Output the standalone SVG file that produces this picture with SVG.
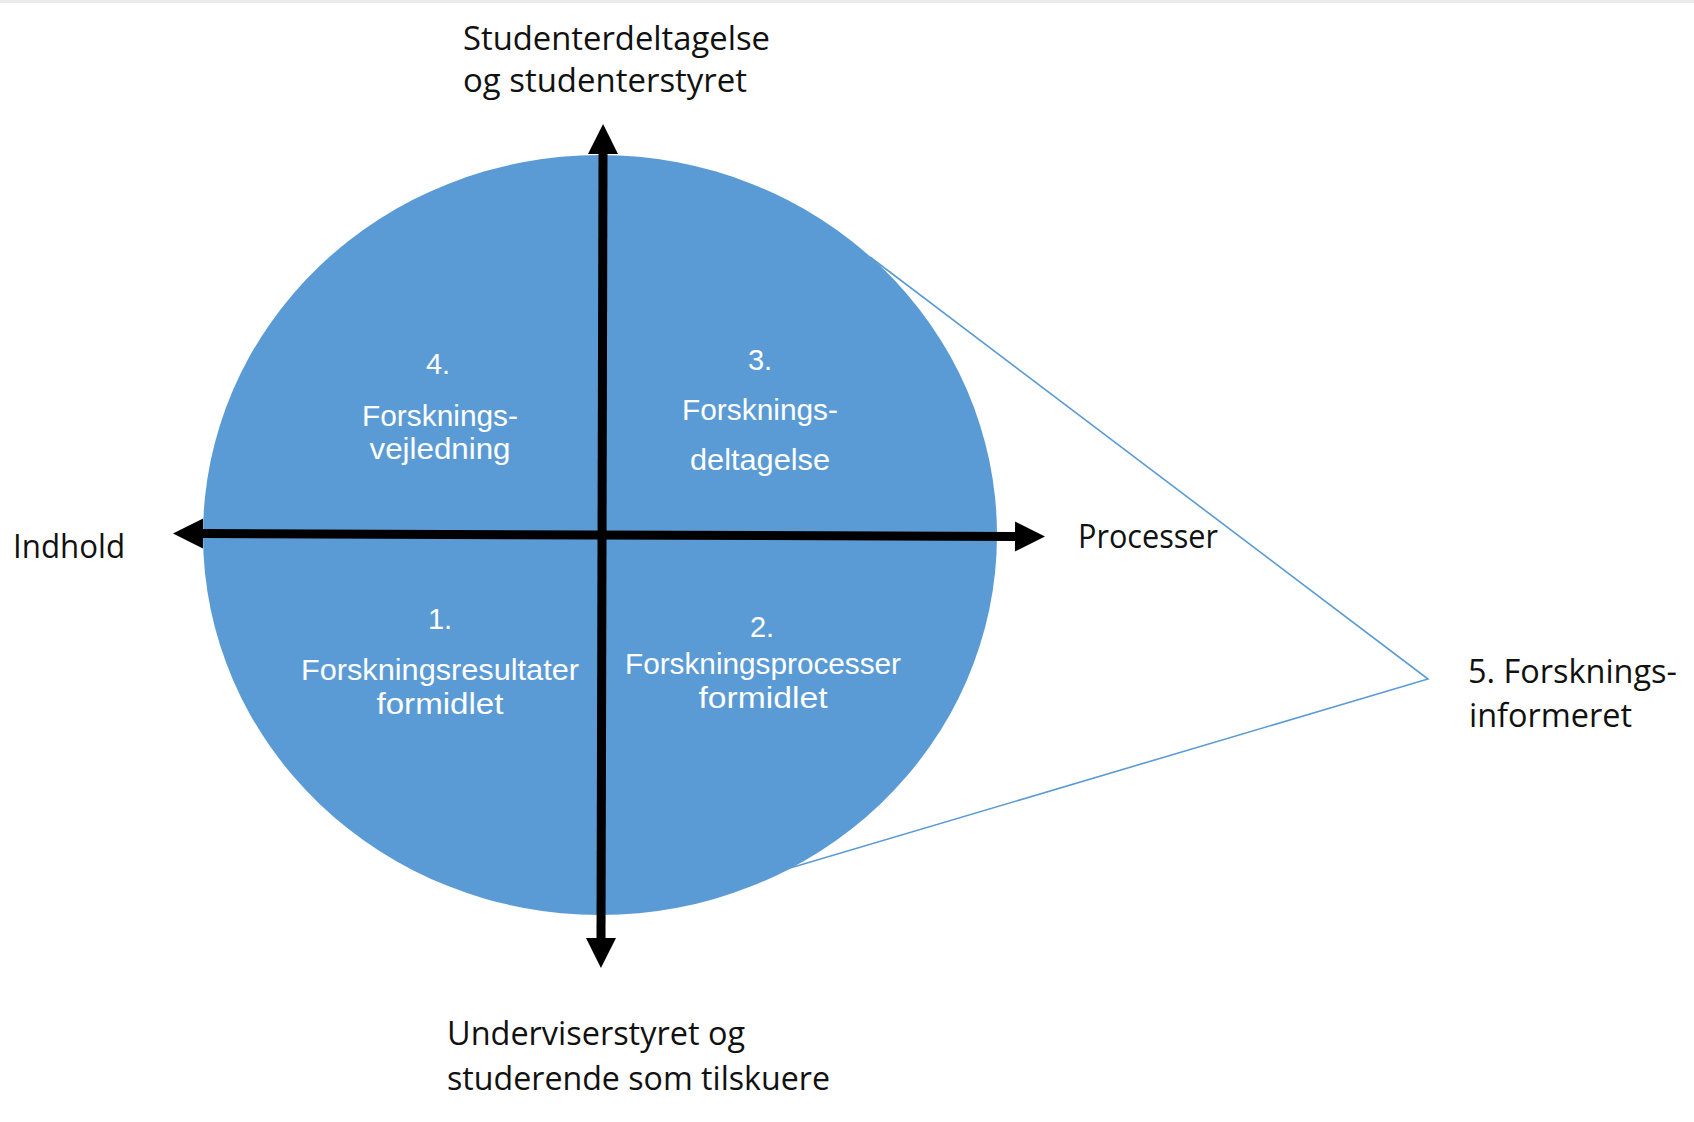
<svg xmlns="http://www.w3.org/2000/svg" width="1694" height="1122" viewBox="0 0 1694 1122">
<style>
.outer{font-family:"Open Sans","Liberation Sans",sans-serif;font-size:32px;fill:#111;}
.inner{font-family:"Liberation Sans",Arial,sans-serif;font-size:29px;fill:#fff;text-anchor:middle;}
.tri{fill:none;stroke:#5B9BD5;stroke-width:1.6;stroke-linejoin:miter;}
.axis{stroke:#000;stroke-width:9;fill:none;marker-start:url(#head);marker-end:url(#head);}
</style>
<defs>
<marker id="head" markerUnits="userSpaceOnUse" markerWidth="32" markerHeight="32" refX="0" refY="16" viewBox="0 0 32 32" orient="auto-start-reverse" overflow="visible">
<path d="M0,1 L30,16 L0,31 Z" fill="#000"/>
</marker>
</defs>
<rect x="0" y="0" width="1694" height="1122" fill="#fff"/>
<rect x="0" y="0" width="1694" height="3" fill="#ebebeb"/>
<g id="connectors">
<polyline class="tri" points="870,257 1428,679 780,871"/>
</g>
<g id="circle">
<ellipse cx="600" cy="535" rx="397" ry="380" fill="#5B9BD5"/>
</g>
<g id="axes">
<line class="axis" x1="203" y1="533.5" x2="1015" y2="536.5"/>
<line class="axis" x1="603" y1="154" x2="601" y2="938"/>
</g>
<g id="q4">
<text class="inner" x="438" y="374">4.</text>
<text class="inner" x="440" y="426" textLength="156" lengthAdjust="spacingAndGlyphs">Forsknings-</text>
<text class="inner" x="440" y="459" textLength="141" lengthAdjust="spacingAndGlyphs">vejledning</text>
</g>
<g id="q3">
<text class="inner" x="760" y="370">3.</text>
<text class="inner" x="760" y="420" textLength="156" lengthAdjust="spacingAndGlyphs">Forsknings-</text>
<text class="inner" x="760" y="470" textLength="140" lengthAdjust="spacingAndGlyphs">deltagelse</text>
</g>
<g id="q1">
<text class="inner" x="440" y="629">1.</text>
<text class="inner" x="440" y="680" textLength="278" lengthAdjust="spacingAndGlyphs">Forskningsresultater</text>
<text class="inner" x="440" y="714" textLength="127" lengthAdjust="spacingAndGlyphs">formidlet</text>
</g>
<g id="q2">
<text class="inner" x="762" y="637">2.</text>
<text class="inner" x="763" y="674" textLength="276" lengthAdjust="spacingAndGlyphs">Forskningsprocesser</text>
<text class="inner" x="763" y="708" textLength="129" lengthAdjust="spacingAndGlyphs">formidlet</text>
</g>
<g id="label-top">
<text class="outer" x="463" y="50" textLength="307" lengthAdjust="spacingAndGlyphs">Studenterdeltagelse</text>
<text class="outer" x="463" y="92" textLength="284" lengthAdjust="spacingAndGlyphs">og studenterstyret</text>
</g>
<g id="label-left">
<text class="outer" x="13" y="558" textLength="112" lengthAdjust="spacingAndGlyphs">Indhold</text>
</g>
<g id="label-right">
<text class="outer" x="1078" y="548" textLength="140" lengthAdjust="spacingAndGlyphs">Processer</text>
</g>
<g id="label-5">
<text class="outer" x="1468" y="683" textLength="209" lengthAdjust="spacingAndGlyphs">5. Forsknings-</text>
<text class="outer" x="1469" y="727" textLength="163" lengthAdjust="spacingAndGlyphs">informeret</text>
</g>
<g id="label-bottom">
<text class="outer" x="447" y="1045" textLength="298" lengthAdjust="spacingAndGlyphs">Underviserstyret og</text>
<text class="outer" x="447" y="1090" textLength="383" lengthAdjust="spacingAndGlyphs">studerende som tilskuere</text>
</g>
</svg>
